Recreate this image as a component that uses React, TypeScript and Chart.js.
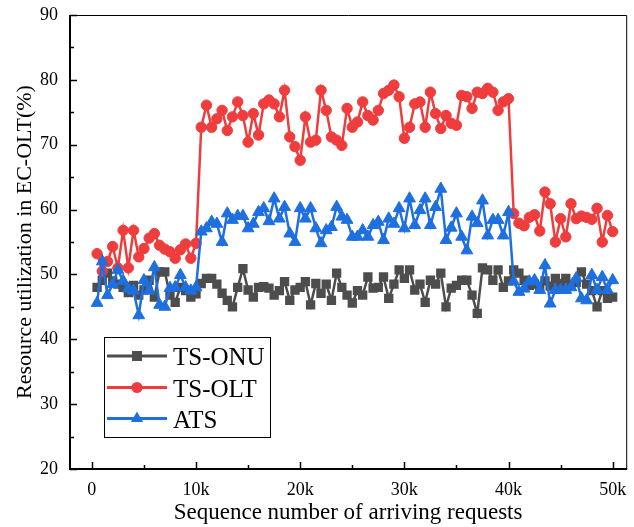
import React, { useEffect, useRef } from 'react';
import { Chart, registerables } from 'chart.js';

Chart.register(...registerables);

const requests = [
  500, 1000, 1500, 2000, 2500, 3000, 3500, 4000, 4500, 5000,
  5500, 6000, 6500, 7000, 7500, 8000, 8500, 9000, 9500, 10000,
  10500, 11000, 11500, 12000, 12500, 13000, 13500, 14000, 14500, 15000,
  15500, 16000, 16500, 17000, 17500, 18000, 18500, 19000, 19500, 20000,
  20500, 21000, 21500, 22000, 22500, 23000, 23500, 24000, 24500, 25000,
  25500, 26000, 26500, 27000, 27500, 28000, 28500, 29000, 29500, 30000,
  30500, 31000, 31500, 32000, 32500, 33000, 33500, 34000, 34500, 35000,
  35500, 36000, 36500, 37000, 37500, 38000, 38500, 39000, 39500, 40000,
  40500, 41000, 41500, 42000, 42500, 43000, 43500, 44000, 44500, 45000,
  45500, 46000, 46500, 47000, 47500, 48000, 48500, 49000, 49500, 50000,
];

const tsOnu = [
  48, 49.1, 50.2, 49, 48.5, 48, 47.2, 48.3, 46.8, 47.6,
  49.1, 46.5, 50.4, 50.4, 46.8, 45.7, 48, 47.5, 46.5, 47,
  48.6, 49.4, 49.4, 48.5, 47.1, 46, 45, 48, 50.9, 47.6,
  46.5, 48, 48.1, 47.9, 46.8, 47.5, 48.9, 46, 47.6, 48,
  48.9, 45.3, 48.6, 47.1, 48.5, 46, 50.2, 48, 46.8, 45.6,
  47.5, 46.8, 49.6, 47.9, 48, 49.6, 46.3, 48.5, 50.7, 49.4,
  50.7, 47.6, 48.5, 45.7, 49.1, 48.5, 50.2, 45, 47.9, 48.3,
  49.1, 49.1, 46.8, 44, 51, 50.7, 49.1, 50.7, 48, 49,
  50.7, 50.2, 49.1, 48.3, 48.5, 47.8, 49, 48.2, 49.4, 48.6,
  49.4, 48.5, 48.8, 50.4, 48.5, 47.5, 45, 47.5, 46.3, 46.5,
];

const tsOlt = [
  53.2, 50.5, 52, 54.3, 51, 56.8, 51, 56.8, 52.7, 54,
  55.6, 56.3, 54.5, 53.9, 53.5, 52.5, 53.8, 54.7, 52.5, 54.8,
  72.7, 76.1, 72.7, 74, 75.3, 72.2, 74.3, 76.6, 74.5, 70.4,
  74.8, 71.5, 76.3, 76.9, 76.3, 74.3, 78.4, 71.2, 69.7, 67.6,
  74.3, 70.4, 70.7, 78.4, 75.3, 71.2, 70.7, 69.9, 75.6, 72.7,
  73.5, 76.6, 74.5, 73.8, 75.3, 77.9, 78.4, 79.2, 77.4, 71,
  72.7, 76.3, 76.6, 72.7, 78.1, 74.8, 72.5, 74.5, 73.3, 73,
  77.6, 77.4, 75.6, 78.1, 77.9, 78.7, 78.1, 75.3, 76.6, 77.1,
  59.4, 57.9, 57.5, 58.8, 59.2, 56.7, 62.7, 60.9, 55, 58.6,
  55.8, 60.9, 58.6, 59, 58.8, 58.5, 60.2, 55, 59.1, 56.6,
];

const ats = [
  45.6, 52, 46.8, 48.5, 50.7, 49, 47.8, 47.5, 43.7, 49.1,
  47.5, 51.1, 45.3, 45, 47.9, 48, 49.9, 48, 47.5, 48,
  56.6, 57.1, 58.1, 57.8, 55, 59.4, 58.4, 59, 59, 57.1,
  57.8, 59.6, 60.2, 58.2, 61.7, 58.6, 60.4, 56.3, 55, 60.2,
  58.6, 60.2, 57.1, 54.8, 56.8, 57.3, 60.4, 58.9, 58.4, 55.8,
  55.8, 56.8, 55.8, 57.6, 58.1, 55.3, 58.6, 57.8, 60.2, 57.1,
  61.7, 57.6, 59.9, 61.7, 57.6, 60.4, 63.2, 55.3, 57.2, 59.4,
  55.8, 53.7, 58.9, 57.9, 61.4, 56, 58.4, 58.4, 56, 59.6,
  48.9, 47.3, 47.8, 48.9, 49.1, 47.6, 51.4, 45.5, 47.6, 47.6,
  47.6, 48, 49.4, 46.3, 46, 49.9, 47.6, 49.6, 47.6, 49.1,
];

const seriesNames = ['TS-ONU', 'TS-OLT', 'ATS'];
const xTickValues = [0, 10000, 20000, 30000, 40000, 50000];
const xTickLabels = ['0', '10k', '20k', '30k', '40k', '50k'];
const xMinorTicks = [5000, 15000, 25000, 35000, 45000];
const yTickValues = [20, 30, 40, 50, 60, 70, 80, 90];
const yMinorTicks = [25, 35, 45, 55, 65, 75, 85];

const GRAY = '#4d4d4d';
const RED = '#ef3d3d';
const BLUE = '#1e6fdf';
const FONT = '"Liberation Serif", "Times New Roman", serif';

function drawMarker(ctx: CanvasRenderingContext2D, style: string, x: number, y: number, color: string) {
  ctx.fillStyle = color;
  ctx.beginPath();
  if (style === 'rect') {
    ctx.rect(x - 5, y - 5, 10, 10);
  } else if (style === 'circle') {
    ctx.arc(x, y, 5.5, 0, Math.PI * 2);
  } else {
    const r = 7;
    ctx.moveTo(x, y - r);
    ctx.lineTo(x + r * 0.866, y + r * 0.5);
    ctx.lineTo(x - r * 0.866, y + r * 0.5);
    ctx.closePath();
  }
  ctx.fill();
}

const framePlugin = {
  id: 'frameAndLegend',
  afterDraw(chart: any) {
    const { ctx, chartArea } = chart;
    const { left, right, top, bottom } = chartArea;
    const xs = chart.scales.x;
    const ys = chart.scales.y;
    ctx.save();
    ctx.strokeStyle = '#000';
    ctx.lineWidth = 1;
    ctx.beginPath();
    ctx.moveTo(left, top + 0.5);
    ctx.lineTo(right + 0.5, top + 0.5);
    ctx.lineTo(right + 0.5, bottom);
    ctx.stroke();
    ctx.lineWidth = 2;
    ctx.beginPath();
    ctx.moveTo(left, top);
    ctx.lineTo(left, bottom);
    ctx.lineTo(right + 1, bottom);
    ctx.stroke();
    ctx.lineWidth = 1.5;
    ctx.beginPath();
    xTickValues.forEach((v) => {
      const px = Math.round(xs.getPixelForValue(v)) + 0.5;
      ctx.moveTo(px, bottom);
      ctx.lineTo(px, bottom - 7);
    });
    xMinorTicks.forEach((v) => {
      const px = Math.round(xs.getPixelForValue(v)) + 0.5;
      ctx.moveTo(px, bottom);
      ctx.lineTo(px, bottom - 4);
    });
    yTickValues.forEach((v) => {
      const py = Math.round(ys.getPixelForValue(v)) + 0.5;
      ctx.moveTo(left, py);
      ctx.lineTo(left + 7, py);
    });
    yMinorTicks.forEach((v) => {
      const py = Math.round(ys.getPixelForValue(v)) + 0.5;
      ctx.moveTo(left, py);
      ctx.lineTo(left + 4, py);
    });
    ctx.stroke();

    ctx.lineWidth = 1;
    ctx.strokeStyle = '#000';
    ctx.strokeRect(104.5, 337.5, 166, 100);
    const rows = [
      { label: seriesNames[0], color: GRAY, style: 'rect', y: 356 },
      { label: seriesNames[1], color: RED, style: 'circle', y: 387.5 },
      { label: seriesNames[2], color: BLUE, style: 'triangle', y: 418.5 },
    ];
    rows.forEach((r) => {
      ctx.strokeStyle = r.color;
      ctx.lineWidth = 3;
      ctx.beginPath();
      ctx.moveTo(107, r.y);
      ctx.lineTo(167, r.y);
      ctx.stroke();
      drawMarker(ctx, r.style, 137, r.y, r.color);
      ctx.fillStyle = '#000';
      ctx.font = `25px ${FONT}`;
      ctx.textAlign = 'left';
      ctx.textBaseline = 'alphabetic';
      ctx.fillText(r.label, 173, r.y + 9);
    });
    ctx.restore();
  },
};

export default function App() {
  const ref = useRef<HTMLCanvasElement | null>(null);
  useEffect(() => {
    document.body.style.margin = '0';
    const canvas = ref.current;
    if (!canvas) return;
    const mk = (vals: number[]) => requests.map((x, i) => ({ x, y: vals[i] }));
    const chart = new Chart(canvas, {
      type: 'line',
      data: {
        datasets: [
          {
            label: seriesNames[0],
            data: mk(tsOnu),
            borderColor: GRAY,
            backgroundColor: GRAY,
            borderWidth: 2.5,
            pointStyle: 'rect',
            pointRadius: 6.6,
            pointBorderWidth: 0,
            order: 3,
          },
          {
            label: seriesNames[1],
            data: mk(tsOlt),
            borderColor: RED,
            backgroundColor: RED,
            borderWidth: 2.5,
            pointStyle: 'circle',
            pointRadius: 5.2,
            pointBorderWidth: 1,
            order: 2,
          },
          {
            label: seriesNames[2],
            data: mk(ats),
            borderColor: BLUE,
            backgroundColor: BLUE,
            borderWidth: 2.5,
            pointStyle: 'triangle',
            pointRadius: 6.8,
            pointBorderWidth: 1,
            order: 1,
          },
        ],
      },
      options: {
        responsive: false,
        animation: false,
        layout: { padding: { top: 15, right: 1, left: 0, bottom: 0 } },
        plugins: { legend: { display: false }, tooltip: { enabled: false } },
        scales: {
          x: {
            type: 'linear',
            min: -2100,
            max: 51300,
            grid: { display: false, drawTicks: false },
            border: { display: false },
            afterBuildTicks: (s: any) => {
              s.ticks = xTickValues.map((v) => ({ value: v }));
            },
            afterFit: (s: any) => {
              s.height = 58;
              s.paddingLeft = 0;
              s.paddingRight = 0;
            },
            ticks: {
              color: '#000',
              font: { family: FONT, size: 18 },
              padding: 10,
              maxRotation: 0,
              callback: (v: any) => {
                const i = xTickValues.indexOf(Number(v));
                return i >= 0 ? xTickLabels[i] : '';
              },
            },
            title: {
              display: true,
              text: 'Sequence number of arriving requests',
              color: '#000',
              font: { family: FONT, size: 23 },
              padding: { top: 0, bottom: 0 },
            },
          },
          y: {
            type: 'linear',
            min: 20,
            max: 90,
            grid: { display: false, drawTicks: false },
            border: { display: false },
            afterBuildTicks: (s: any) => {
              s.ticks = yTickValues.map((v) => ({ value: v }));
            },
            afterFit: (s: any) => {
              s.width = 70;
              s.paddingTop = 0;
              s.paddingBottom = 0;
            },
            ticks: {
              color: '#000',
              font: { family: FONT, size: 18 },
              padding: 12,
            },
            title: {
              display: true,
              text: 'Resource utilization in EC-OLT(%)',
              color: '#000',
              font: { family: FONT, size: 22 },
              padding: { top: 12, bottom: 0 },
            },
          },
        },
      },
      plugins: [framePlugin],
    });
    return () => chart.destroy();
  }, []);
  return (
    <div style={{ width: 634, height: 527 }}>
      <canvas ref={ref} width={634} height={527} style={{ display: 'block' }} />
    </div>
  );
}
